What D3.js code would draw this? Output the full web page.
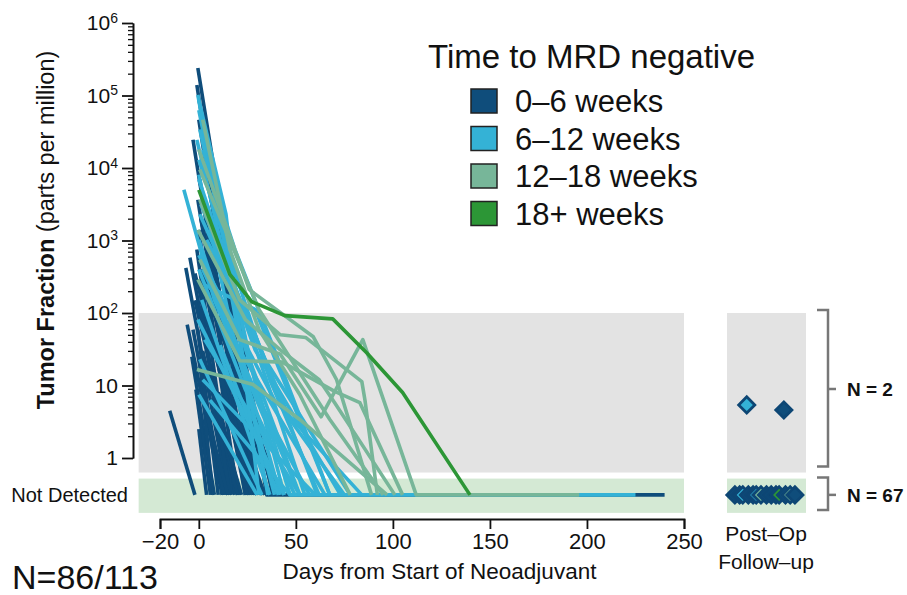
<!DOCTYPE html>
<html>
<head>
<meta charset="utf-8">
<script src="https://cdn.jsdelivr.net/npm/d3@7"></script>
<style>
body { margin: 0; background: #fff; }
text { font-family: "Liberation Sans", Arial, sans-serif; fill: #111; }
</style>
</head>
<body>
<div id="chart"></div>
<script>
var svgWidth = 907;
var svgHeight = 595;

var ND = "ND";

var groups = ["0–6 weeks", "6–12 weeks", "12–18 weeks", "18+ weeks"];
var groupColors = ["#0f4d7b", "#34b2d6", "#77b699", "#2c9636"];

// 0-6 weeks patients: [day, parts per million]
var darkLines = [
  [[-15, 4.5], [-2, ND]],
  [[-0.5, 240000], [35, ND], [240, ND]],
  [[-3, 24500], [26, ND]],
  [[-1, 140000], [31, ND]],
  [[-4.6, 580], [18.5, ND]],
  [[-6.7, 420], [15, ND]],
  [[-6, 69], [12, ND]],
  [[-3.6, 25], [8, ND]],
  [[-2, 150], [21, ND]],
  [[-0.5, 3650], [24, ND]],
  [[0.5, 6900], [29, ND]],
  [[0, 1400], [20, ND]],
  [[-1, 750], [17, ND]],
  [[0, 290], [14, ND]],
  [[1, 112], [16, ND]],
  [[-0.5, 59], [10, ND]],
  [[0.5, 23], [7, ND]],
  [[2, 13000], [38, ND]],
  [[3, 1950], [32, ND]],
  [[5.7, 210], [26, ND]],
  [[8, 43], [30, ND]],
  [[11, 17], [34, ND]],
  [[13, 59], [39, ND]],
  [[-1.5, 8.8], [6, ND]],
  [[0, 46500], [24, 3.4], [30, ND]],
  [[1.5, 400], [24, ND]],
  [[4.6, 750], [36, ND]],
  [[-3, 59], [13, ND]],
  [[7, 112], [42, ND]],
  [[0, 2.5], [4, ND]],
  [[2, 30], [20, ND]],
  [[4, 15], [22, ND]],
  [[6, 70], [28, ND]],
  [[9, 25], [25, ND]],
  [[-2, 350], [27, ND]],
  [[3, 5], [15, ND]],
  [[10, 8], [33, ND]],
  [[1, 2000], [18, 20], [30, ND]]
];

// 6-12 weeks
var lightLines = [
  [[-0.5, 102000], [21, 59], [47, ND], [225, ND]],
  [[-7.7, 5000], [8, 152], [34, 3.4], [44, ND]],
  [[2, 17800], [18.6, 750], [39, 31], [67.5, ND]],
  [[0, 63000], [26, 23], [52, ND]],
  [[0.5, 34000], [31, 6.3], [57, ND]],
  [[0, 13000], [36.6, 12], [62, ND]],
  [[1, 3650], [29, 31], [73, ND]],
  [[0, 1020], [31, 3.4], [42, ND]],
  [[0, 400], [24, 8.8], [49.5, ND]],
  [[1.5, 152], [36.6, ND]],
  [[-0.5, 81], [44, ND]],
  [[3, 43], [52, ND]],
  [[0.5, 23], [32.5, ND]],
  [[2, 12], [60, ND]],
  [[5.7, 6.3], [47, ND]],
  [[0, 6900], [21, 152], [54.6, ND]],
  [[0.5, 2300], [34, 23], [78, ND]],
  [[0, 630], [39, 6.3], [84, ND]],
  [[3, 245], [29, 112], [67.5, ND]],
  [[-1, 24500], [13.4, 545], [35.6, ND]],
  [[4, 1020], [26, 81], [61, ND]],
  [[6.7, 210], [52, ND]],
  [[0, 7.5], [30, ND]],
  [[11, 36], [41, ND]],
  [[0, 8100], [17, 59], [39, ND]],
  [[1, 3150], [47, 3.4], [75, ND]],
  [[0, 87000], [14, 2300], [31, ND]],
  [[2, 400], [21, 31], [65, ND]]
];

// 12-18 weeks
var sageLines = [
  [[0, 18000], [26, 210], [59, 47], [71, 12], [89, ND]],
  [[0.5, 3650], [21, 152], [42, 50], [55, 46], [84, 11.3], [85.6, 6.3], [92, ND]],
  [[-0.5, 1400], [24, 81], [42, 31], [62, 12], [70, 5.8], [101, ND]],
  [[0.5, 545], [21, 43], [42, 27], [63, 3.7], [84.5, 43], [112, ND], [196, ND]],
  [[-0.5, 290], [21, 22], [43, 21], [70, 8.3], [83, 5.8], [105, ND]],
  [[2, 46500], [16, 750], [31, 59], [52, 7.5], [78, ND]],
  [[-1, 16.6], [28, 10.3], [52, 3.4], [97, ND]],
  [[0.5, 9500], [31, 112], [67.5, 3.4], [95, ND]]
];

// 18+ weeks
var greenLines = [
  [[0, 5000], [16, 340], [27.3, 143], [44.3, 92], [69, 83], [86.6, 28], [105, 8], [139.7, ND]]
];

// post-op follow-up samples
var followDetectedPos = [0.25, 0.72];
var followDetectedValue = [5.4, 4.6];
var followDetectedGroup = [1, 0];

var followNDPos = [0.1, 0.16, 0.2, 0.27, 0.33, 0.37, 0.43, 0.5, 0.56, 0.62, 0.66, 0.74, 0.8, 0.86];
var followNDGroup = [0, 0, 1, 0, 0, 1, 2, 0, 0, 0, 3, 0, 2, 0];

var xTicks = [-20, 0, 50, 100, 150, 200, 250];
var yMajor = [1, 10, 100, 1000, 10000, 100000, 1000000];

var svg = d3.select("#chart")
  .append("svg")
  .attr("width", svgWidth)
  .attr("height", svgHeight);

var xScale = d3.scaleLinear().domain([-20, 250]).range([160, 684]);
var yScale = d3.scaleLog().domain([1, 1e6]).range([458, 23]);
var ndLevel = 0.31;
function yPos(v) { return v === ND ? yScale(ndLevel) : yScale(v); }

var followX = d3.scaleLinear().domain([0, 1]).range([727, 806]);

// background bands
var grayTop = yScale(100), grayBottom = yScale(0.63);
var greenTop = yScale(0.52), greenBottom = yScale(0.175);

svg.append("rect")
  .attr("x", xScale(-31)).attr("y", grayTop)
  .attr("width", xScale(250) - xScale(-31)).attr("height", grayBottom - grayTop)
  .attr("fill", "#e3e3e3");
svg.append("rect")
  .attr("x", xScale(-31)).attr("y", greenTop)
  .attr("width", xScale(250) - xScale(-31)).attr("height", greenBottom - greenTop)
  .attr("fill", "#d4e9d4");

svg.append("rect")
  .attr("x", followX(0)).attr("y", grayTop)
  .attr("width", followX(1) - followX(0)).attr("height", grayBottom - grayTop)
  .attr("fill", "#e3e3e3");
svg.append("rect")
  .attr("x", followX(0)).attr("y", greenTop)
  .attr("width", followX(1) - followX(0)).attr("height", greenBottom - greenTop)
  .attr("fill", "#d4e9d4");

// trajectories
var line = d3.line()
  .x(d => xScale(d[0]))
  .y(d => yPos(d[1]));

var allGroups = [darkLines, lightLines, sageLines, greenLines];
allGroups.forEach(function(lines, gi) {
  svg.append("g")
    .selectAll("path")
    .data(lines)
    .enter()
    .append("path")
    .attr("d", line)
    .attr("fill", "none")
    .attr("stroke", groupColors[gi])
    .attr("stroke-width", 3.6)
    .attr("stroke-linejoin", "round");
});

// follow-up diamonds
var diamond = d3.symbol().type(d3.symbolSquare).size(130);
var followG = svg.append("g");
followNDPos.forEach(function(p, i) {
  followG.append("path")
    .attr("d", diamond)
    .attr("transform", `translate(${followX(p)}, ${yPos(ND)}) rotate(45)`)
    .attr("fill", groupColors[followNDGroup[i]])
    .attr("stroke", "#0d4674")
    .attr("stroke-width", 2.8);
});
followDetectedPos.forEach(function(p, i) {
  followG.append("path")
    .attr("d", diamond)
    .attr("transform", `translate(${followX(p)}, ${yScale(followDetectedValue[i])}) rotate(45)`)
    .attr("fill", groupColors[followDetectedGroup[i]])
    .attr("stroke", "#0d4674")
    .attr("stroke-width", 2.8);
});

// x axis
var bottomAxis = d3.axisBottom(xScale)
  .tickValues(xTicks)
  .tickSizeOuter(0)
  .tickSize(10)
  .tickPadding(4);
var xAxisG = svg.append("g")
  .attr("transform", "translate(0, 519)")
  .call(bottomAxis);
xAxisG.selectAll("text").attr("font-size", "22px").attr("font-family", "Liberation Sans, Arial, sans-serif").attr("fill", "#111");
xAxisG.selectAll("line, path").attr("stroke", "#111").attr("stroke-width", 1.8);

svg.append("text")
  .attr("x", xScale(124))
  .attr("y", 579)
  .attr("text-anchor", "middle")
  .attr("font-size", "22.5px")
  .text("Days from Start of Neoadjuvant");

// y axis, minor ticks first
var yMinor = [];
yMajor.slice(0, -1).forEach(function(m) {
  for (var k = 2; k <= 9; k++) yMinor.push(m * k);
});
var minorAxis = d3.axisLeft(yScale).tickValues(yMinor).tickSize(5).tickFormat("").tickSizeOuter(0);
var minorG = svg.append("g").attr("transform", "translate(133, 0)").call(minorAxis);
minorG.selectAll("line, path").attr("stroke", "#111").attr("stroke-width", 1.3);

var leftAxis = d3.axisLeft(yScale).tickValues(yMajor).tickSize(11).tickSizeOuter(0).tickPadding(4);
var yAxisG = svg.append("g").attr("transform", "translate(133, 0)").call(leftAxis);
yAxisG.selectAll("line, path").attr("stroke", "#111").attr("stroke-width", 1.8);
yAxisG.selectAll("text")
  .attr("font-size", "21px")
  .attr("font-family", "Liberation Sans, Arial, sans-serif")
  .attr("fill", "#111")
  .each(function(d) {
    var t = d3.select(this);
    var p = Math.round(Math.log10(d));
    t.text(null);
    if (p < 2) {
      t.text(d);
    } else {
      t.append("tspan").text("10");
      t.append("tspan").attr("dy", "-0.55em").attr("font-size", "14px").text(p);
    }
  });

var yTitle = svg.append("text")
  .attr("transform", "translate(54, 230) rotate(-90)")
  .attr("text-anchor", "middle")
  .attr("font-size", "23.5px");
yTitle.append("tspan").attr("font-weight", "bold").text("Tumor Fraction");
yTitle.append("tspan").text(" (parts per million)");

svg.append("text")
  .attr("x", 128)
  .attr("y", yPos(ND))
  .attr("dy", "0.35em")
  .attr("text-anchor", "end")
  .attr("font-size", "20px")
  .text("Not Detected");

// brackets
var bracket = svg.append("g").attr("fill", "none").attr("stroke", "#777").attr("stroke-width", 2.5);
bracket.append("path").attr("d", `M817,${grayTop - 3}H828V${grayBottom - 6}H817`);
bracket.append("path").attr("d", "M828,389H836");
bracket.append("path").attr("d", `M817,${greenTop - 1}H828V${greenBottom - 3}H817`);
bracket.append("path").attr("d", `M828,${yPos(ND)}H836`);

svg.append("text").attr("x", 847).attr("y", 389).attr("dy", "0.35em")
  .attr("font-size", "19px").attr("font-weight", "bold").text("N = 2");
svg.append("text").attr("x", 847).attr("y", yPos(ND)).attr("dy", "0.35em")
  .attr("font-size", "19px").attr("font-weight", "bold").text("N = 67");

svg.append("text").attr("x", 766).attr("y", 541).attr("text-anchor", "middle")
  .attr("font-size", "21px").text("Post–Op");
svg.append("text").attr("x", 766).attr("y", 569).attr("text-anchor", "middle")
  .attr("font-size", "21px").text("Follow–up");

// legend
svg.append("text")
  .attr("x", 428).attr("y", 68)
  .attr("font-size", "33px")
  .text("Time to MRD negative");

var legend = svg.append("g");
groups.forEach(function(g, i) {
  var cy = 101 + i * 37.5;
  legend.append("rect")
    .attr("x", 471).attr("y", cy - 12)
    .attr("width", 26).attr("height", 24)
    .attr("fill", groupColors[i])
    .attr("stroke", "#222")
    .attr("stroke-width", 1.5);
  legend.append("text")
    .attr("x", 515).attr("y", cy)
    .attr("dy", "0.36em")
    .attr("font-size", "31px")
    .text(g);
});

svg.append("text")
  .attr("x", 12).attr("y", 589)
  .attr("font-family", "Lato, 'Open Sans', sans-serif")
  .attr("font-size", "34px")
  .text("N=86/113");
</script>
</body>
</html>
